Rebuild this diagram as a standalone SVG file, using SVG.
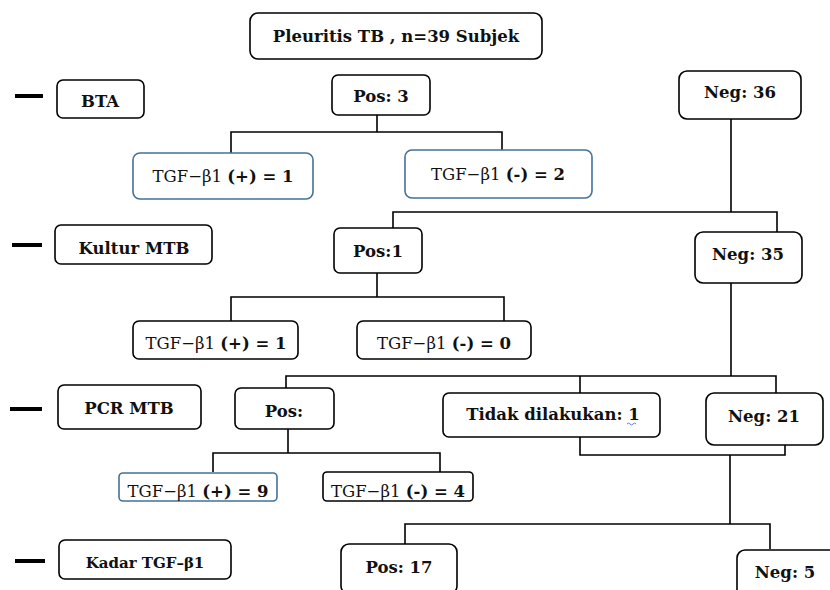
<svg xmlns="http://www.w3.org/2000/svg" width="830" height="590" viewBox="0 0 830 590">
<style>
.bx{fill:#fff;stroke:#000;stroke-width:1.6}
.bb{fill:#fff;stroke:#41719c;stroke-width:1.6}
.t{font-family:"DejaVu Serif","Liberation Serif",serif;font-weight:bold;font-size:16.5px;fill:#111;text-anchor:middle}
.r{font-weight:normal}
.c{fill:none;stroke:#000;stroke-width:1.6}
.d{fill:#000}
</style>
<rect width="830" height="590" fill="#fff"/>
<g id="dashes">
<rect class="d" x="15" y="94" width="28" height="4"/>
<rect class="d" x="12" y="243" width="30" height="4"/>
<rect class="d" x="10" y="407" width="32" height="4"/>
<rect class="d" x="15" y="559" width="30" height="4"/>
</g>
<g id="connectors">
<path class="c" d="M377 115V132M231 153V132H502V150"/>
<path class="c" d="M731 119V212M393 228V212H777V232"/>
<path class="c" d="M377 273V297M231 321V297H504V321"/>
<path class="c" d="M731 283V376M286 393V376H776V397M580 376V393"/>
<path class="c" d="M288 429V453M213 472V453H440V472"/>
<path class="c" d="M580 437V455H785V442M730 455V524M405 544V524H770V549"/>
</g>
<g id="title"><rect class="bx" x="250" y="13" width="292" height="46" rx="8"/><text class="t" x="396" y="42">Pleuritis TB , n=39 Subjek</text></g>
<g id="bta"><rect class="bx" x="57" y="80" width="87" height="38" rx="6"/><text class="t" x="100" y="107">BTA</text></g>
<g id="pos3"><rect class="bx" x="332" y="75" width="98" height="40" rx="6"/><text class="t" x="381" y="102">Pos: 3</text></g>
<g id="neg36"><rect class="bx" x="679" y="71" width="122" height="48" rx="8"/><text class="t" x="740" y="98">Neg: 36</text></g>
<g id="tgf-bta-pos"><rect class="bb" x="133" y="153" width="180" height="46" rx="7"/><text class="t" x="223" y="182"><tspan class="r">TGF−β1 </tspan>(+) = 1</text></g>
<g id="tgf-bta-neg"><rect class="bb" x="405" y="150" width="187" height="48" rx="7"/><text class="t" x="498" y="180"><tspan class="r">TGF−β1 </tspan>(-) = 2</text></g>
<g id="kultur"><rect class="bx" x="55" y="225" width="157" height="39" rx="6"/><text class="t" x="134" y="254">Kultur MTB</text></g>
<g id="pos1"><rect class="bx" x="334" y="228" width="88" height="45" rx="6"/><text class="t" x="378" y="257">Pos:1</text></g>
<g id="neg35"><rect class="bx" x="695" y="232" width="107" height="51" rx="8"/><text class="t" x="748" y="260">Neg: 35</text></g>
<g id="tgf-kul-pos"><rect class="bx" x="133" y="321" width="165" height="38" rx="6"/><text class="t" x="216" y="349"><tspan class="r">TGF−β1 </tspan>(+) = 1</text></g>
<g id="tgf-kul-neg"><rect class="bx" x="357" y="321" width="174" height="38" rx="6"/><text class="t" x="444" y="349"><tspan class="r">TGF−β1 </tspan>(-) = 0</text></g>
<g id="pcr"><rect class="bx" x="58" y="385" width="143" height="44" rx="6"/><text class="t" x="129" y="414">PCR MTB</text></g>
<g id="pospcr"><rect class="bx" x="235" y="388" width="99" height="41" rx="6"/><text class="t" x="284" y="417">Pos:</text></g>
<g id="tidak"><rect class="bx" x="443" y="393" width="217" height="44" rx="6"/><text class="t" x="553" y="420">Tidak dilakukan: 1</text><path d="M627 424q1.5-2 3 0t3 0 3 0" fill="none" stroke="#4a6fd0" stroke-width="0.9"/></g>
<g id="neg21"><rect class="bx" x="706" y="393" width="117" height="52" rx="8"/><text class="t" x="764" y="422">Neg: 21</text></g>
<g id="tgf-pcr-pos"><rect class="bb" x="119" y="473" width="158" height="28" rx="4"/><text class="t" x="198" y="497"><tspan class="r">TGF−β1 </tspan>(+) = 9</text></g>
<g id="tgf-pcr-neg"><rect class="bx" x="323" y="472" width="150" height="29" rx="4"/><text class="t" x="398" y="497"><tspan class="r">TGF−β1 </tspan>(-) = 4</text></g>
<g id="kadar"><rect class="bx" x="59" y="540" width="172" height="39" rx="6"/><text class="t" x="145" y="568" style="font-size:15px">Kadar TGF–β1</text></g>
<g id="pos17"><rect class="bx" x="341" y="544" width="116" height="50" rx="8"/><text class="t" x="399" y="573">Pos: 17</text></g>
<g id="neg5"><rect class="bx" x="737" y="550" width="110" height="50" rx="8"/><text class="t" x="785" y="578">Neg: 5</text></g>
</svg>
